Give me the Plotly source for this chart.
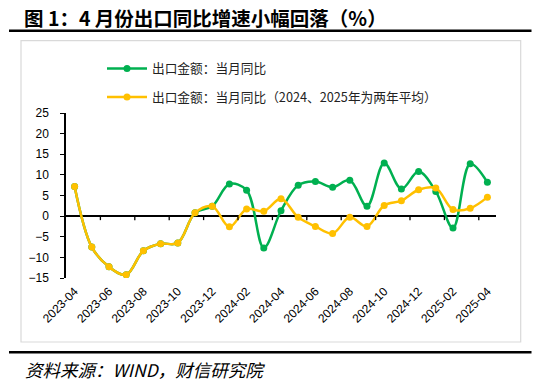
import plotly.graph_objects as go

months = ["2023-04", "2023-05", "2023-06", "2023-07", "2023-08", "2023-09", "2023-10",
          "2023-11", "2023-12", "2024-01", "2024-02", "2024-03", "2024-04", "2024-05",
          "2024-06", "2024-07", "2024-08", "2024-09", "2024-10", "2024-11", "2024-12",
          "2025-01", "2025-02", "2025-03", "2025-04"]

export_yoy = [7.2, -7.5, -12.3, -14.2, -8.4, -6.7, -6.5,
              0.8, 2.4, 7.8, 6.3, -7.7, 1.3, 7.5,
              8.4, 7.0, 8.7, 2.4, 12.9, 6.6, 10.8,
              6.0, -2.9, 12.7, 8.2]

export_yoy_2y = [7.2, -7.5, -12.3, -14.2, -8.4, -6.7, -6.5,
                 0.8, 2.4, -2.6, 1.7, 1.2, 4.2, -0.3,
                 -2.5, -4.2, -0.3, -2.5, 2.6, 3.75, 6.4,
                 6.8, 1.6, 1.9, 4.6]

name_green = "出口金额：当月同比"
name_yellow = "出口金额：当月同比（2024、2025年为两年平均）"
title_text = "图 1：4 月份出口同比增速小幅回落（%）"
source_text = "资料来源：WIND，财信研究院"

y_ticks = [-15, -10, -5, 0, 5, 10, 15, 20, 25]

GREEN = "#00B050"
YELLOW = "#FFC000"
W, H = 550, 391
L, R, T, B = 66, 496, 113.3, 278.3

idx = list(range(len(months)))

fig = go.Figure()
fig.add_trace(go.Scatter(x=idx, y=export_yoy, name=name_green, mode="lines+markers",
                         line=dict(color=GREEN, width=2.5, shape="spline", smoothing=1),
                         marker=dict(color=GREEN, size=7), legendgroup="g1"))
fig.add_trace(go.Scatter(x=idx, y=export_yoy_2y, name=name_yellow, mode="lines+markers",
                         line=dict(color=YELLOW, width=2.5, shape="spline", smoothing=1),
                         marker=dict(color=YELLOW, size=7), legendgroup="g2"))

def px(xp):
    return (xp - L) / (R - L)

def py(yp):
    return (B - yp) / (B - T)

shapes = []
# tick marks on the zero line, between categories every 2 months
for i in range(2, len(months), 2):
    shapes.append(dict(type="line", xref="x", yref="y", x0=i - 0.5, x1=i - 0.5,
                       ysizemode="pixel", yanchor=0, y0=0, y1=-4,
                       line=dict(color="black", width=1.3)))
# light chart border
shapes.append(dict(type="rect", xref="paper", yref="paper",
                   x0=px(21), x1=px(520.7), y0=py(342.3), y1=py(41),
                   line=dict(color="#D9D9D9", width=1.2), layer="below"))
# title rule and bottom rule
shapes.append(dict(type="line", xref="paper", yref="paper",
                   x0=px(9), x1=px(531.5), y0=py(31), y1=py(31),
                   line=dict(color="black", width=2.6)))
shapes.append(dict(type="line", xref="paper", yref="paper",
                   x0=px(9), x1=px(531.5), y0=py(352.5), y1=py(352.5),
                   line=dict(color="black", width=2.6)))

annotations = [
    dict(text="<b>" + title_text + "</b>", xref="paper", yref="paper",
         x=px(22), y=py(17.5), xanchor="left", yanchor="middle", showarrow=False,
         font=dict(family="Noto Sans CJK SC", size=19.5, color="black")),
    dict(text="<i>" + source_text + "</i>", xref="paper", yref="paper",
         x=px(23), y=py(369.5), xanchor="left", yanchor="middle", showarrow=False,
         font=dict(family="Noto Sans CJK SC", size=17.5, color="black")),
]

fig.update_layout(
    width=W, height=H,
    margin=dict(l=L, r=W - R, t=T, b=H - B, pad=0, autoexpand=False),
    paper_bgcolor="white", plot_bgcolor="white",
    showlegend=True,
    legend=dict(x=px(102), y=py(54), xanchor="left", yanchor="top",
                font=dict(family="Noto Sans CJK SC", size=12.7, color="#222222"),
                itemwidth=40, tracegroupgap=9, bgcolor="rgba(0,0,0,0)",
                traceorder="grouped"),
    shapes=shapes, annotations=annotations,
    xaxis=dict(range=[-0.5, len(months) - 0.5], tickmode="array",
               tickvals=idx[::2], ticktext=months[::2], tickangle=-45,
               showgrid=False, zeroline=False, showline=False, ticks="",
               automargin=False, ticklabelstandoff=3,
               tickfont=dict(family="Liberation Sans", size=12, color="black")),
    yaxis=dict(range=[-15, 25], tickmode="array", tickvals=y_ticks,
               showgrid=False, zeroline=True, zerolinecolor="black", zerolinewidth=1.5,
               showline=True, linecolor="black", linewidth=1.5, automargin=False,
               ticks="outside", ticklen=4, tickcolor="black", tickwidth=1.3,
               ticklabelstandoff=9,
               tickfont=dict(family="Liberation Sans", size=12, color="black")),
)

fig.write_html("out.html", config={"displayModeBar": False},
               post_script="document.body.style.margin='0';")
